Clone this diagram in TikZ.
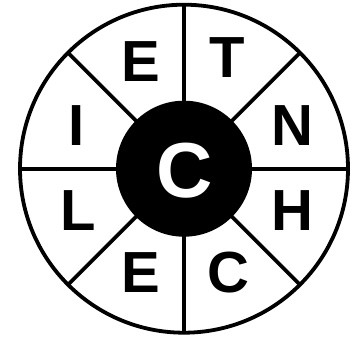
\documentclass[tikz,border=0pt]{standalone}
\usepackage{fontspec}
\setmainfont{Liberation Sans}
\usepackage{tikz}

\begin{document}
\begin{tikzpicture}[x=1pt,y=1pt,
  rim/.style={line width=3.8pt},
  letter/.style={inner sep=0pt, font=\fontsize{58}{58}\selectfont\bfseries},
  hubletter/.style={inner sep=0pt, text=white, font=\fontsize{78}{78}\selectfont\bfseries}]
  \useasboundingbox (0,0) rectangle (358,338);
  \coordinate (O) at (184,169.3);

  % Wheel
  \draw[rim] (O) circle (164);

  % Spokes
  \draw[rim] (O) ++(0:164) -- ++(180:328);
  \draw[rim] (O) ++(90:164) -- ++(270:328);
  \draw[rim] (O) ++(45:164) -- ++(225:328);
  \draw[rim] (O) ++(135:164) -- ++(315:328);

  % Hub (filled, on top)
  \fill (O) circle (68);
  \node[hubletter] (hub) at (184.5,167.5) {C};

  % Letters round the wheel
  \node[letter] (topE) at (141,276) {E};
  \node[letter] (topT) at (227,280) {T};
  \node[letter] (rimN) at (292,212) {N};
  \node[letter] (rimH) at (292,127) {H};
  \node[letter] (botC) at (228,65) {C};
  \node[letter] (botE) at (141,65) {E};
  \node[letter] (rimL) at (78,127) {L};
  \node[letter] (rimI) at (77,212) {I};
\end{tikzpicture}
\end{document}
